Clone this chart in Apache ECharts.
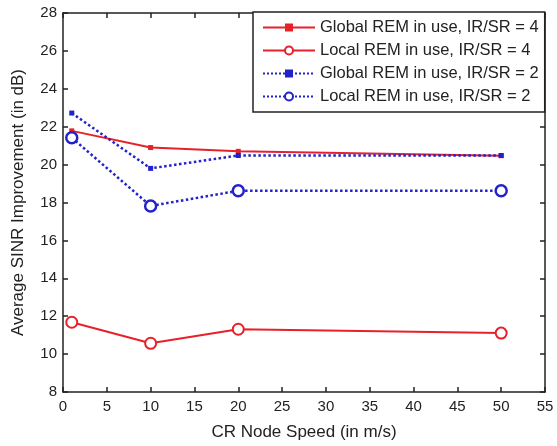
<!DOCTYPE html>
<html><head><meta charset="utf-8">
<script src="https://cdn.jsdelivr.net/npm/echarts@6/dist/echarts.min.js"></script>
<style>html,body{margin:0;padding:0;background:#fff}#c{width:557px;height:446px}</style>
</head><body><div id="c"></div>
<script>
const speeds = [1, 10, 20, 50];
const globalIR4 = [21.78, 20.9, 20.7, 20.47];
const localIR4 = [11.68, 10.57, 11.31, 11.11];
const globalIR2 = [22.72, 19.8, 20.48, 20.48];
const localIR2 = [21.42, 17.82, 18.62, 18.62];
const names = ['Global REM in use, IR/SR = 4','Local REM in use, IR/SR = 4','Global REM in use, IR/SR = 2','Local REM in use, IR/SR = 2'];
const pts = a => speeds.map((s,i)=>[s,a[i]]);
const F = 'Liberation Sans, Arial, sans-serif';
const chart = echarts.init(document.getElementById('c'));
const axisCommon = {
  axisLine:{show:true,onZero:false,lineStyle:{color:'#222',width:1.5}},
  axisTick:{show:true,inside:true,length:5,lineStyle:{color:'#222',width:1.5}},
  splitLine:{show:false}
};
chart.setOption({
  animation:false,
  backgroundColor:'#fff',
  grid:{left:63,right:12,top:13,bottom:54},
  legend:{
    orient:'vertical', left:253, top:12, itemGap:4, itemWidth:52, itemHeight:10,
    padding:[6,6,6,9],
    borderColor:'#222', borderWidth:1.5, backgroundColor:'#fff',
    textStyle:{fontFamily:F,fontSize:16.5,lineHeight:19,color:'#222'},
    data:names
  },
  xAxis:[
    Object.assign({type:'value',min:0,max:55,interval:5,position:'bottom',
      name:'CR Node Speed (in m/s)',nameLocation:'middle',nameGap:32,
      nameTextStyle:{fontFamily:F,fontSize:17,color:'#222'},
      axisLabel:{fontFamily:F,fontSize:15,color:'#222',margin:7}},axisCommon),
    Object.assign({type:'value',min:0,max:55,interval:5,position:'top',axisLabel:{show:false}},axisCommon)
  ],
  yAxis:[
    Object.assign({type:'value',min:8,max:28,interval:2,position:'left',
      name:'Average SINR Improvement (in dB)',nameLocation:'middle',nameGap:36,
      nameTextStyle:{fontFamily:F,fontSize:17,color:'#222'},
      axisLabel:{fontFamily:F,fontSize:15,color:'#222',margin:6}},axisCommon),
    Object.assign({type:'value',min:8,max:28,interval:2,position:'right',axisLabel:{show:false}},axisCommon)
  ],
  series:[
    {name:names[0],type:'line',data:pts(globalIR4),symbol:'rect',symbolSize:5,
     lineStyle:{color:'#e8202a',width:2},itemStyle:{color:'#e8202a'}},
    {name:names[1],type:'line',data:pts(localIR4),symbol:'circle',symbolSize:11,
     lineStyle:{color:'#e8202a',width:2},itemStyle:{color:'#fff',borderColor:'#e8202a',borderWidth:2}},
    {name:names[2],type:'line',data:pts(globalIR2),symbol:'rect',symbolSize:5,
     lineStyle:{color:'#2222cc',width:2.5,type:'dotted'},itemStyle:{color:'#2222cc'}},
    {name:names[3],type:'line',data:pts(localIR2),symbol:'circle',symbolSize:11,
     lineStyle:{color:'#2222cc',width:2.5,type:'dotted'},itemStyle:{color:'#fff',borderColor:'#2222cc',borderWidth:2.5}}
  ]
});
</script></body></html>
